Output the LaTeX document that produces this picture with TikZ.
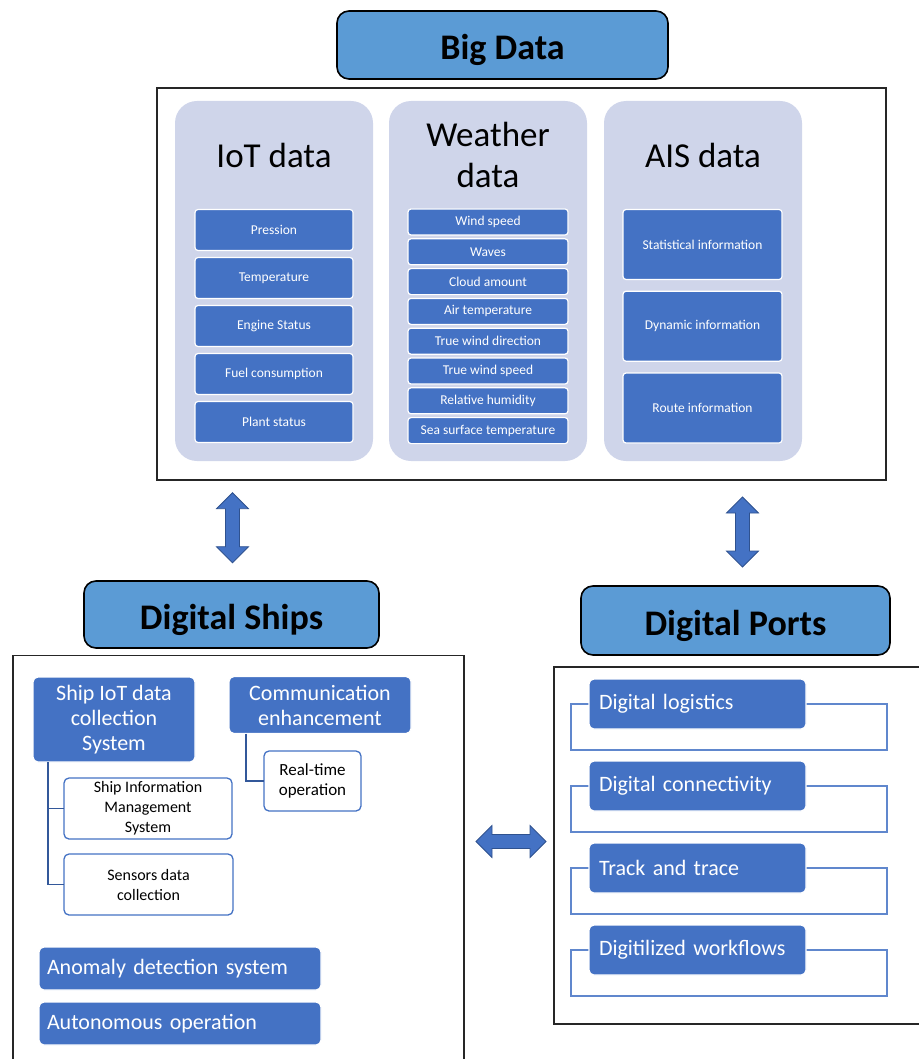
\documentclass[tikz,border=0pt]{standalone}
\usepackage{fontspec}
\setmainfont{Carlito}
\definecolor{hdr}{HTML}{5B9BD5}
\definecolor{acc}{HTML}{4472C4}
\definecolor{accdark}{HTML}{2F528F}
\definecolor{lav}{HTML}{CFD5EA}
\newcommand\fsz[2]{\fontsize{#1}{#2}\selectfont}
\newcommand\dblarrow[4]{% name, x, y, rotation
  \coordinate (#1) at (#2,#3);
  \draw[blockarr, shift={(#1)}, rotate=#4]
    (-35,0) -- (-19,16) -- (-19,7) -- (19,7) -- (19,16) -- (35,0)
    -- (19,-16) -- (19,-7) -- (-19,-7) -- (-19,-16) -- cycle;}
\begin{document}
\begin{tikzpicture}[x=1pt,y=-1pt,
  every node/.style={inner sep=0pt,outer sep=0pt},
  title/.style={draw=black,line width=1.6pt,fill=hdr,rounded corners=12pt,
    font=\bfseries\fsz{36}{40},text height=30pt,text depth=0pt},
  frame/.style={draw=black!85,line width=1.3pt},
  column/.style={fill=lav,rounded corners=22pt},
  coltitle/.style={font=\fsz{35}{41},align=center,text=black},
  item/.style={fill=acc,draw=white,line width=1.2pt,text=white,font=\fsz{13.5}{16},align=center,rounded corners=3pt},
  bigitem/.style={fill=acc,draw=white,line width=1.2pt,text=white,font=\fsz{22}{25},rounded corners=5pt},
  subitem/.style={fill=white,draw=acc,line width=1.3pt,text=black,rounded corners=5pt,align=center},
  link/.style={draw=accdark!80!acc,line width=1.6pt},
  bracket/.style={draw=acc!85!white,line width=1.6pt},
  blockarr/.style={fill=acc,draw=accdark,line width=0.8pt,line join=miter}]
\useasboundingbox (0,0) rectangle (918,1059);

% ---------- Big Data ----------
\node[title,minimum width=331,minimum height=68] (bigdata) at (502.5,45) {Big Data};
\node[frame,minimum width=729,minimum height=392] (bigframe) at (521.5,284) {};

\node[column,minimum width=198,minimum height=360] (colIoT) at (274,281) {};
\node[column,minimum width=198,minimum height=360] (colW) at (488,281) {};
\node[column,minimum width=198,minimum height=360] (colAIS) at (703,281) {};

\node[coltitle] (tIoT) at (274,155) {IoT data};
\node[coltitle] (tW) at (488,155) {Weather\\data};
\node[coltitle] (tAIS) at (703,155) {AIS data};

\foreach \t [count=\i from 0] in {Pression,Temperature,Engine Status,Fuel consumption,Plant status}
  \node[item,minimum width=158,minimum height=41] (iot\i) at (274,230+48*\i) {\t};

\foreach \t [count=\i from 0] in {Wind speed,Waves,Cloud amount,Air temperature,True wind direction,True wind speed,Relative humidity,Sea surface temperature}
  \node[item,minimum width=160,minimum height=26] (w\i) at (488,222+29.8*\i) {\t};

\foreach \t [count=\i from 0] in {Statistical information,Dynamic information,Route information}
  \node[item,minimum width=159,minimum height=70] (ais\i) at (702.5,244.5+81.75*\i) {\t};

% ---------- block arrows ----------
\dblarrow{arrL}{232.5}{527.7}{90}
\dblarrow{arrR}{742.5}{532}{90}
\dblarrow{arrH}{511}{841.5}{0}

% ---------- Digital Ships ----------
\node[title,minimum width=295,minimum height=67] (ships) at (231.5,614.5) {Digital Ships};
\draw[frame] (13,1070) -- (13,655.5) coordinate (sfTL) -- (464,655.5) -- (464,1070);

\node[bigitem,minimum width=162,minimum height=85,align=center] (shipiot) at (114,719.5)
  {Ship IoT data\\collection\\System};
\node[bigitem,minimum width=182,minimum height=57,align=center] (comm) at (320,705)
  {Communication\\enhancement};
\node[subitem,minimum width=97,minimum height=60,font=\fsz{17}{20}] (realtime) at (312.5,781)
  {Real-time\\operation};
\node[subitem,minimum width=168,minimum height=61,font=\fsz{16}{20}] (sims) at (148,808.5)
  {Ship Information\\Management\\System};
\node[subitem,minimum width=169,minimum height=61,font=\fsz{16}{20}] (sensors) at (148.5,884.5)
  {Sensors data\\collection};

\draw[link] ([xshift=15pt]shipiot.south west) |- (sims.west);
\draw[link] ([xshift=15pt]shipiot.south west) |- (sensors.west);
\draw[link] ([xshift=17pt]comm.south west) |- (realtime.west);

\node[bigitem,minimum width=282,minimum height=43,text width=266,align=left] (anomaly) at (180,968.5)
  {Anomaly detection system};
\node[bigitem,minimum width=282,minimum height=43,text width=266,align=left] (auto) at (180,1023.5)
  {Autonomous operation};

% ---------- Digital Ports ----------
\node[title,minimum width=309,minimum height=69] (ports) at (735.5,620.5) {Digital Ports};
\draw[frame] (930,667) -- (554,667) -- (554,1024) -- (930,1024);

\foreach \t [count=\i from 0] in {Digital logistics,Digital connectivity,Track and trace,Digitilized workflows}{
  \coordinate (bt\i) at (571,704+82*\i);
  \coordinate (bb\i) at (887,750+82*\i);
  \draw[bracket] (bt\i) rectangle (bb\i);
  \node[bigitem,minimum width=217,minimum height=50,text width=197,align=left] (port\i) at (697.5,704+82*\i) {\t};
}
\end{tikzpicture}
\end{document}
